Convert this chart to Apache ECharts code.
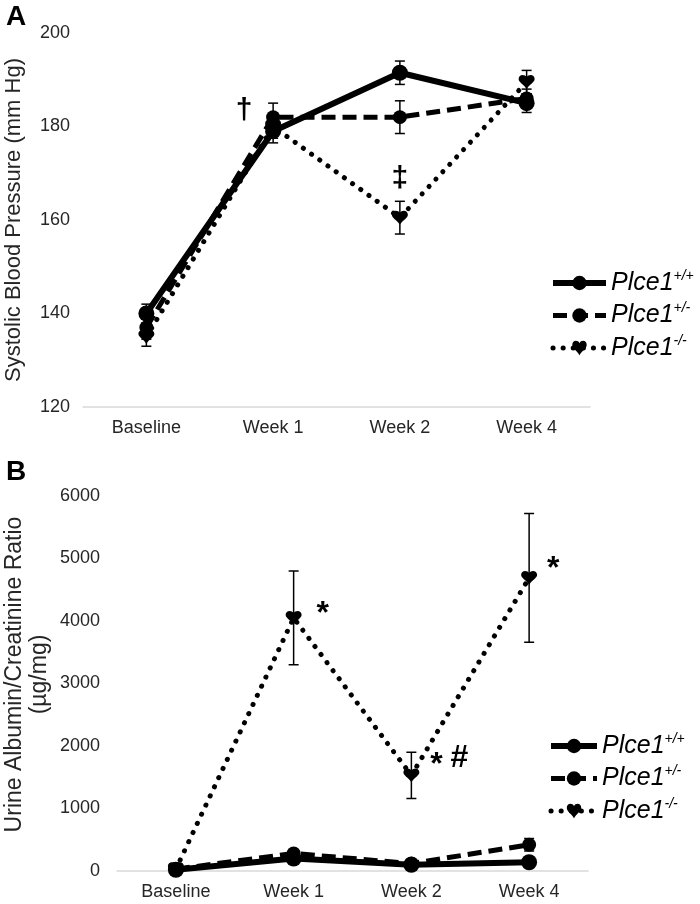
<!DOCTYPE html>
<html><head><meta charset="utf-8">
<script src="https://cdn.jsdelivr.net/npm/echarts@6/dist/echarts.min.js"></script>
<style>html,body{margin:0;padding:0;background:#fff}#c{width:700px;height:904px}</style>
</head><body><div id="c"></div>
<script>
// ---------- DATA ----------
const categories = ['Baseline', 'Week 1', 'Week 2', 'Week 4'];
const seriesNames = ['Plce1+/+', 'Plce1+/-', 'Plce1-/-'];

// Panel A: systolic blood pressure (mm Hg)
const bpWT  = [140, 179, 191.5, 185];
const bpHet = [137, 182, 182, 186];
const bpKO  = [135, 180, 160.5, 189.5];
const bpErrWT  = [2, 2.5, 2.5, 2];
const bpErrHet = [2.5, 3, 3.5, 2];
const bpErrKO  = [2, 2.5, 3.5, 2.5];
const bpTicks = [120, 140, 160, 180, 200];

// Panel B: urine albumin/creatinine ratio (µg/mg)
const acrWT  = [20, 200, 100, 140];
const acrHet = [30, 280, 120, 420];
const acrKO  = [30, 4050, 1530, 4690];
const acrErrWT  = [20, 40, 30, 20];
const acrErrHet = [10, 50, 30, 100];
const acrErrKO  = [10, 750, 370, 1030];
const acrTicks = [0, 1000, 2000, 3000, 4000, 5000, 6000];

// Significance annotations: [category, value, text]
const annotA = [['Week 1', 183, '†'], ['Week 2', 168.5, '‡']];
const annotB = [['Week 1', 4220, '*'], ['Week 2', 1810, '*'], ['Week 2', 1810, '#'], ['Week 4', 4940, '*']];

// ---------- STYLE ----------
const annotOffsetA = [[-29, -2], [0, -2]];
const annotOffsetB = [[29, 7], [25, 7], [48, 0], [24, 7]];
const FONT = 'Liberation Sans, Arial, sans-serif';
const TXT = '#262626';
const koPath = 'path://M0,3 C0,0 4,0 5,2 C6,0 10,0 10,3 C10,5 7,6 5,9 C3,6 0,5 0,3 Z';
const styles = [
  { lineStyle: { color: '#000', width: 6, type: 'solid' }, symbol: 'circle', symbolSize: 16 },
  { lineStyle: { color: '#000', width: 5, type: [14, 7] }, symbol: 'circle', symbolSize: 14 },
  { lineStyle: { color: '#000', width: 5, type: [0.1, 10], cap: 'round' }, symbol: koPath, symbolSize: [16, 14] }
];

function lineSeries(name, data, gi, k) {
  const s = styles[k];
  return {
    type: 'line', name, xAxisIndex: gi, yAxisIndex: gi, data,
    symbol: s.symbol, symbolSize: s.symbolSize, showSymbol: true,
    lineStyle: s.lineStyle, itemStyle: { color: '#000' }, z: 3,
    emphasis: { disabled: true }
  };
}
function errSeries(vals, errs, gi) {
  return {
    type: 'custom', xAxisIndex: gi, yAxisIndex: gi, z: 6, silent: true,
    data: vals.map((v, i) => [i, v - errs[i], v + errs[i]]),
    renderItem(params, api) {
      const lo = api.coord([api.value(0), api.value(1)]);
      const hi = api.coord([api.value(0), api.value(2)]);
      const w = 5, st = { stroke: '#000', lineWidth: 1.5 };
      return { type: 'group', children: [
        { type: 'line', shape: { x1: lo[0], y1: lo[1], x2: hi[0], y2: hi[1] }, style: st },
        { type: 'line', shape: { x1: lo[0] - w, y1: lo[1], x2: lo[0] + w, y2: lo[1] }, style: st },
        { type: 'line', shape: { x1: hi[0] - w, y1: hi[1], x2: hi[0] + w, y2: hi[1] }, style: st }
      ] };
    }
  };
}
function annotSeries(list, offsets, gi, fs) {
  return {
    type: 'custom', xAxisIndex: gi, yAxisIndex: gi, z: 10, silent: true,
    data: list.map(a => [categories.indexOf(a[0]), a[1]]),
    renderItem(params, api) {
      const i = params.dataIndex;
      const p = api.coord([api.value(0), api.value(1)]);
      return { type: 'text', x: p[0] + offsets[i][0], y: p[1] + offsets[i][1],
        style: { text: list[i][2], fill: '#000', font: 'bold ' + fs + 'px ' + FONT,
          align: 'center', verticalAlign: 'middle' } };
    }
  };
}
function legend(top, left, w) {
  return {
    orient: 'vertical', left, top, itemWidth: w, itemHeight: 18, itemGap: 6,
    data: seriesNames, selectedMode: false,
    lineStyle: { width: 'inherit' },
    formatter: n => '{m|Plce1}{s|' + n.slice(5) + '}',
    textStyle: { rich: {
      m: { fontSize: 25, fontStyle: 'italic', fontFamily: FONT, color: '#000', lineHeight: 28 },
      s: { fontSize: 14, fontStyle: 'italic', fontFamily: FONT, color: '#000', verticalAlign: 'top', lineHeight: 16 }
    } }
  };
}
const xAxisBase = {
  type: 'category', data: categories, boundaryGap: true,
  axisLine: { lineStyle: { color: '#d9d9d9', width: 1.5 } },
  axisTick: { show: false },
  axisLabel: { fontSize: 18, color: TXT, margin: 12, fontFamily: FONT }
};
const yBase = {
  type: 'value', axisLine: { show: false }, axisTick: { show: false }, splitLine: { show: false },
  nameLocation: 'middle', nameMoveOverlap: false
};

const chart = echarts.init(document.getElementById('c'), null, { renderer: 'canvas' });
chart.setOption({
  animation: false,
  backgroundColor: '#fff',
  title: [
    { text: 'A', left: 1, top: -2, textStyle: { fontSize: 28, fontWeight: 'bold', color: '#000', fontFamily: FONT } },
    { text: 'B', left: 1, top: 453, textStyle: { fontSize: 28, fontWeight: 'bold', color: '#000', fontFamily: FONT } }
  ],
  grid: [
    { left: 83, right: 110, top: 33, bottom: 497, outerBoundsMode: 'none', containLabel: false },
    { left: 117, right: 112, top: 496, bottom: 33, outerBoundsMode: 'none', containLabel: false }
  ],
  xAxis: [ Object.assign({ gridIndex: 0 }, xAxisBase), Object.assign({ gridIndex: 1 }, xAxisBase) ],
  yAxis: [
    Object.assign({}, yBase, { gridIndex: 0, min: bpTicks[0], max: bpTicks[bpTicks.length - 1],
      interval: bpTicks[1] - bpTicks[0], name: 'Systolic Blood Pressure (mm Hg)', nameGap: 58,
      nameTextStyle: { fontSize: 22, color: TXT, fontFamily: FONT },
      axisLabel: { fontSize: 18, color: TXT, margin: 13, fontFamily: FONT } }),
    Object.assign({}, yBase, { gridIndex: 1, min: acrTicks[0], max: acrTicks[acrTicks.length - 1],
      interval: acrTicks[1] - acrTicks[0], name: 'Urine Albumin/Creatinine Ratio\n(µg/mg)', nameGap: 65,
      nameTextStyle: { fontSize: 23, color: TXT, fontFamily: FONT, lineHeight: 25, padding: [0, 0, 0, 18] },
      axisLabel: { fontSize: 18, color: TXT, margin: 17, fontFamily: FONT, formatter: v => String(v) } })
  ],
  legend: [ legend(264, 545, 53), legend(727, 543, 46) ],
  series: [
    lineSeries(seriesNames[0], bpWT, 0, 0),
    lineSeries(seriesNames[1], bpHet, 0, 1),
    lineSeries(seriesNames[2], bpKO, 0, 2),
    errSeries(bpWT, bpErrWT, 0), errSeries(bpHet, bpErrHet, 0), errSeries(bpKO, bpErrKO, 0),
    lineSeries(seriesNames[0], acrWT, 1, 0),
    lineSeries(seriesNames[1], acrHet, 1, 1),
    lineSeries(seriesNames[2], acrKO, 1, 2),
    errSeries(acrWT, acrErrWT, 1), errSeries(acrHet, acrErrHet, 1), errSeries(acrKO, acrErrKO, 1),
    annotSeries(annotA, annotOffsetA, 0, 30),
    annotSeries(annotB, annotOffsetB, 1, 32)
  ]
});
</script>
</body></html>
